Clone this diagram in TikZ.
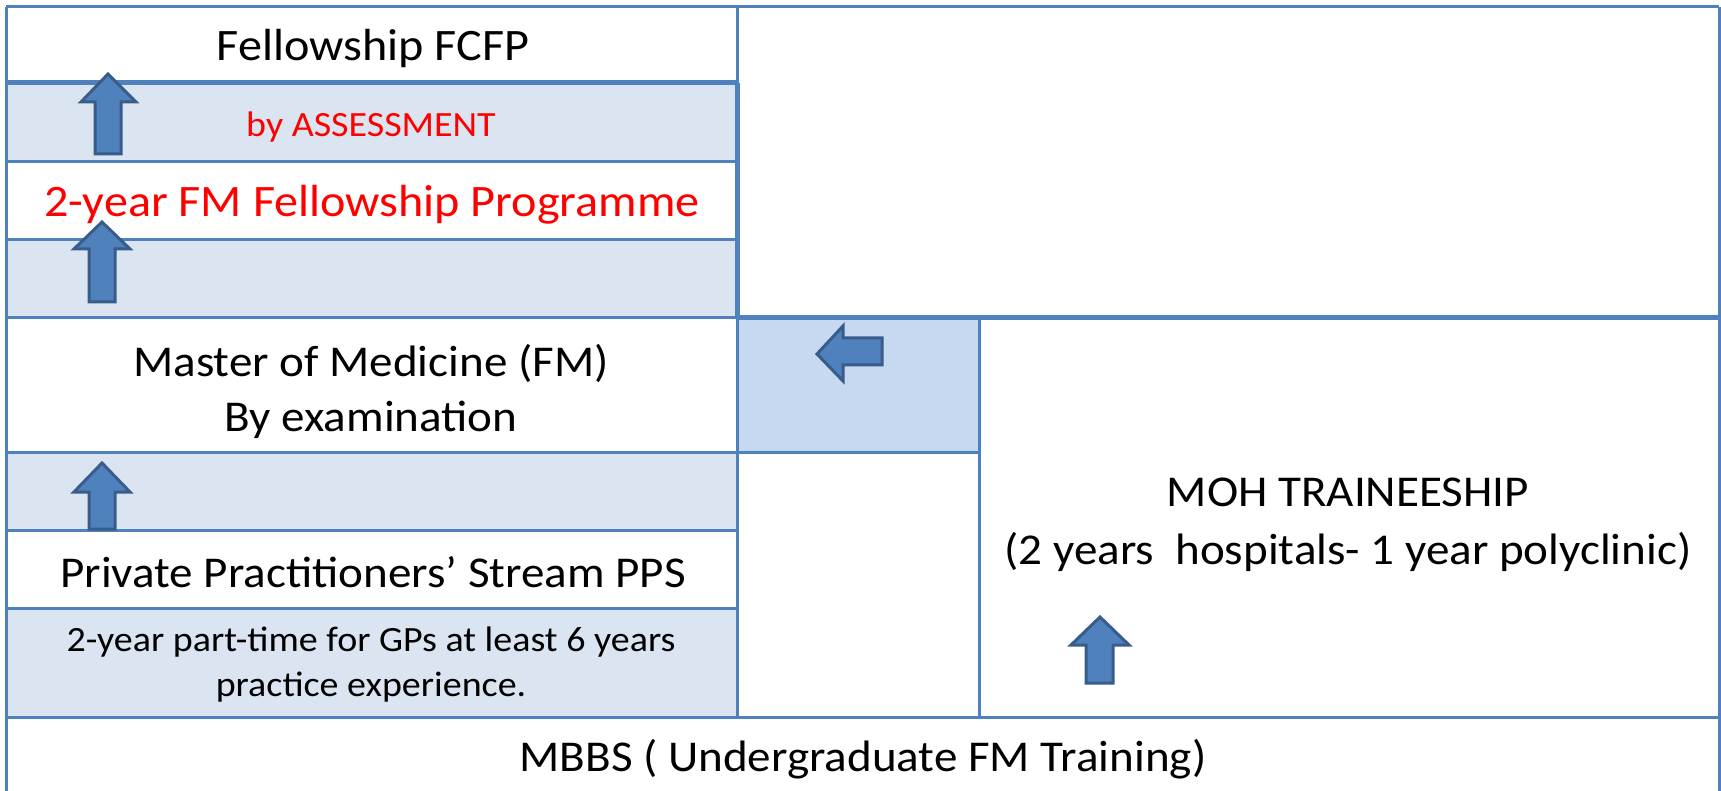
\documentclass[tikz,border=0pt]{standalone}
\usepackage{fontspec}
\setmainfont{Carlito}[FakeStretch=1.07]
\definecolor{gridblue}{HTML}{4F81BD}
\definecolor{rowshade}{HTML}{DBE5F1}
\definecolor{cellshade}{HTML}{C6D9F1}
\definecolor{arrowfill}{HTML}{4F81BD}
\definecolor{arrowline}{HTML}{385D8A}
\begin{document}
\begin{tikzpicture}[x=1pt,y=-1pt,
  gridline/.style={draw=gridblue,line width=3pt},
  thickline/.style={draw=gridblue,line width=5pt},
  blockarrow/.style={fill=arrowfill,draw=arrowline,line width=3pt,line join=miter},
  bigtxt/.style={inner sep=0pt,align=center,font=\fontsize{44}{55}\selectfont},
  redbig/.style={inner sep=0pt,align=center,text=red,font=\fontsize{45}{55}\selectfont},
  smalltxt/.style={inner sep=0pt,align=center,font=\fontsize{35.5}{45}\selectfont},
  redsmall/.style={inner sep=0pt,align=center,text=red,font=\fontsize{35.5}{45}\selectfont}]
\useasboundingbox (0,0) rectangle (1721,791);
\fill[white] (0,0) rectangle (1721,791);
% shaded fills
\fill[rowshade] (6,83) rectangle (737,162);
\fill[rowshade] (6,240) rectangle (737,318);
\fill[rowshade] (6,452) rectangle (737,530);
\fill[rowshade] (6,608) rectangle (737,717);
\fill[cellshade] (737,318) rectangle (979,452);
% grid lines
\draw[gridline] (6,7) -- (1719,7);
\draw[gridline] (6,7) -- (6,791);
\draw[gridline] (1719,7) -- (1719,791);
\draw[thickline] (6,83) -- (737,83);
\draw[gridline] (6,162) -- (737,162);
\draw[gridline] (6,240) -- (737,240);
\draw[gridline] (6,318) -- (737,318);
\draw[thickline] (737,318) -- (1719,318);
\draw[gridline] (6,452) -- (979,452);
\draw[gridline] (6,530) -- (737,530);
\draw[gridline] (6,608) -- (737,608);
\draw[gridline] (6,717) -- (1719,717);
\draw[gridline] (737,7) -- (737,83);
\draw[thickline] (737,83) -- (737,318);
\draw[gridline] (737,318) -- (737,717);
\draw[gridline] (979,318) -- (979,717);
% texts
\node[bigtxt,font=\fontsize{45}{55}\selectfont] (fcfp) at (373,49) {Fellowship FCFP};
\node[redsmall] (assess) at (371,127) {by ASSESSMENT};
\node[redbig] (prog) at (372,205) {2-year FM Fellowship Programme};
\node[bigtxt] (mmed) at (371,391) {Master of Medicine (FM)\\By examination};
\node[bigtxt] (pps) at (373,572) {Private Practitioners’ Stream PPS};
\node[smalltxt] (parttime) at (371,665) {2-year part-time for GPs at least 6 years\\practice experience.};
\node[bigtxt,font=\fontsize{44}{58}\selectfont] (moh) at (1348,525) {MOH TRAINEESHIP\\(2 years\ \ hospitals- 1 year polyclinic)};
\node[bigtxt] (mbbs) at (863,759) {MBBS ( Undergraduate FM Training)};
% block arrows
\draw[blockarrow] (108,74) -- (136,102) -- (121,102) -- (121,154) -- (95,154) -- (95,102) -- (81,102) -- cycle;
\draw[blockarrow] (102,222) -- (130,249) -- (115,249) -- (115,302) -- (89,302) -- (89,249) -- (74,249) -- cycle;
\draw[blockarrow] (102,463) -- (130,492) -- (115,492) -- (115,529) -- (89,529) -- (89,492) -- (74,492) -- cycle;
\draw[blockarrow] (1100,617) -- (1129,645) -- (1113,645) -- (1113,683) -- (1086,683) -- (1086,645) -- (1071,645) -- cycle;
\draw[blockarrow] (817,354) -- (843,326) -- (843,338) -- (882,338) -- (882,365) -- (843,365) -- (843,381) -- cycle;
\end{tikzpicture}
\end{document}
